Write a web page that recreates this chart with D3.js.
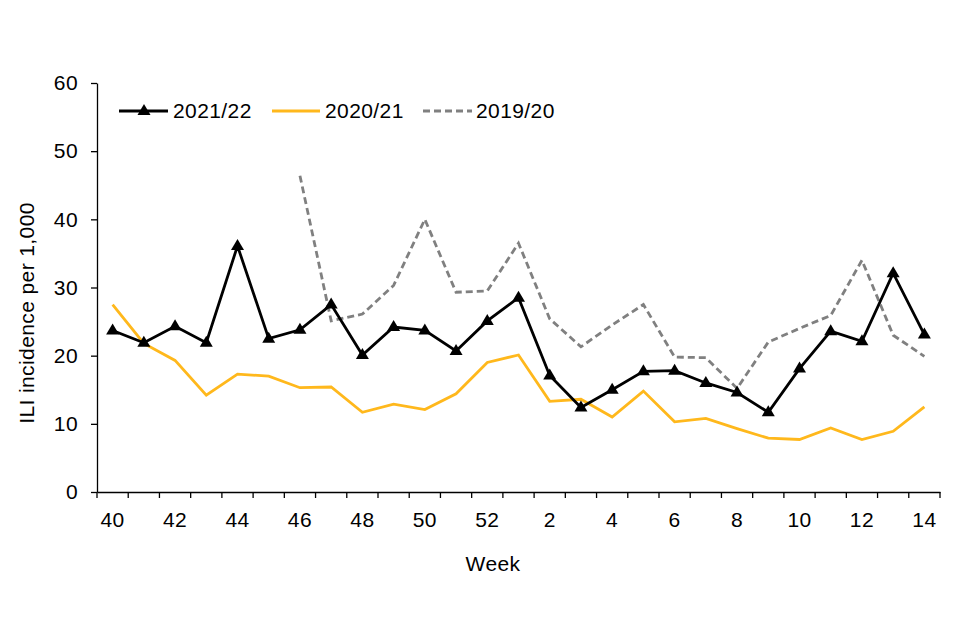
<!DOCTYPE html>
<html>
<head>
<meta charset="utf-8">
<script src="https://cdn.jsdelivr.net/npm/d3@7"></script>
<style>
  body { margin: 0; background: #fff; }
  text { font-family: "Liberation Sans", Arial, sans-serif; }
</style>
</head>
<body>
<div id="chart"></div>
<script>
// weeks of the season, week 40 through week 14
const weeks = ["40","41","42","43","44","45","46","47","48","49","50","51","52",
  "1","2","3","4","5","6","7","8","9","10","11","12","13","14"];
const weekLabels = ["40","42","44","46","48","50","52","2","4","6","8","10","12","14"];

// ILI incidence per 1,000
const season2122 = [23.7, 21.9, 24.3, 21.9, 36.1, 22.5, 23.8, 27.5, 20.1, 24.2, 23.7, 20.7, 25.1,
  28.5, 17.1, 12.4, 15.0, 17.7, 17.8, 16.0, 14.6, 11.7, 18.1, 23.6, 22.1, 32.1, 23.1];
const season2021 = [27.5, 21.8, 19.3, 14.2, 17.3, 17.0, 15.3, 15.4, 11.7, 12.9, 12.1, 14.4, 19.0,
  20.1, 13.3, 13.6, 11.0, 14.8, 10.3, 10.8, 9.3, 7.9, 7.7, 9.4, 7.7, 8.9, 12.5];
const season1920 = [null, null, null, null, null, null, 46.4, 25.1, 26.1, 30.3, 40.0, 29.3, 29.5,
  36.5, 25.4, 21.3, 24.5, 27.5, 19.8, 19.7, 15.2, 22.0, 24.0, 25.9, 34.0, 23.0, 19.9];

const seriesNames = ["2021/22", "2020/21", "2019/20"];
const yTicks = [0, 10, 20, 30, 40, 50, 60];

const width = 960, height = 640;
const plot = { left: 97, right: 940, top: 83, bottom: 492 };

const svg = d3.select('#chart').append('svg')
  .attr('width', width)
  .attr('height', height);

const x = d3.scaleBand().domain(weeks).range([plot.left, plot.right]).paddingInner(0).paddingOuter(0);
const y = d3.scaleLinear().domain([0, 60]).range([plot.bottom, plot.top]);
const cx = (w) => x(w) + x.bandwidth() / 2;

const fontStyle = (sel) => sel.style('font-size', '21px').style('letter-spacing', '0.4px').attr('fill', '#000');

//y axis
const yAxis = svg.append('g')
  .attr('transform', `translate(${plot.left},0)`)
  .call(d3.axisLeft(y).tickValues(yTicks).tickSize(6).tickSizeOuter(0).tickPadding(13));
yAxis.select('.domain').attr('stroke', '#000').attr('stroke-width', 1.3);
yAxis.selectAll('.tick line').attr('stroke', '#000').attr('stroke-width', 1.3);
yAxis.selectAll('.tick text').call(fontStyle).attr('font-family', null);

//x axis: labels on every other week, ticks between weeks
const xAxis = svg.append('g')
  .attr('transform', `translate(0,${plot.bottom})`)
  .call(d3.axisBottom(x).tickValues(weekLabels).tickSize(0).tickPadding(20));
xAxis.select('.domain').attr('stroke', '#000').attr('stroke-width', 1.3);
xAxis.selectAll('.tick text').call(fontStyle).attr('font-family', null);

xAxis.selectAll('line.boundary')
  .data(d3.range(weeks.length + 1))
  .join('line')
  .attr('class', 'boundary')
  .attr('x1', (i) => plot.left + i * x.step())
  .attr('x2', (i) => plot.left + i * x.step())
  .attr('y1', 0)
  .attr('y2', 6)
  .attr('stroke', '#000')
  .attr('stroke-width', 1.3);

//axis titles
svg.append('text')
  .attr('transform', `translate(34,313) rotate(-90)`)
  .attr('text-anchor', 'middle')
  .call(fontStyle)
  .text('ILI incidence per 1,000');

svg.append('text')
  .attr('x', 493)
  .attr('y', 571)
  .attr('text-anchor', 'middle')
  .call(fontStyle)
  .text('Week');

//lines
const line = d3.line()
  .defined((d) => d.v !== null)
  .x((d) => cx(d.w))
  .y((d) => y(d.v));

const toPoints = (vals) => weeks.map((w, i) => ({ w: w, v: vals[i] }));

const styles = [
  { data: season2122, color: '#000000', dash: null },
  { data: season2021, color: '#FFB81C', dash: null },
  { data: season1920, color: '#808080', dash: '7,4' }
];

// draw back to front: 2019/20, 2020/21, 2021/22
[2, 1, 0].forEach(function (k) {
  svg.append('path')
    .datum(toPoints(styles[k].data))
    .attr('fill', 'none')
    .attr('stroke', styles[k].color)
    .attr('stroke-width', 2.8)
    .attr('stroke-dasharray', styles[k].dash)
    .attr('stroke-linejoin', 'miter')
    .attr('d', line);
});

//triangle markers for 2021/22
const triangle = 'M0,-7L6.5,4L-6.5,4Z';
svg.append('g').selectAll('path')
  .data(toPoints(season2122))
  .join('path')
  .attr('transform', (d) => `translate(${cx(d.w)},${y(d.v)})`)
  .attr('d', triangle)
  .attr('fill', '#000');

//legend
const legendItems = [
  { x1: 119, x2: 168, tx: 173 },
  { x1: 272, x2: 320, tx: 325 },
  { x1: 423, x2: 472, tx: 476 }
];
const legende = svg.append('g').attr('id', 'legende');
const legendUnits = legende.selectAll('g')
  .data(seriesNames)
  .join('g');

legendUnits.append('line')
  .attr('x1', (d, i) => legendItems[i].x1)
  .attr('x2', (d, i) => legendItems[i].x2)
  .attr('y1', 111)
  .attr('y2', 111)
  .attr('stroke', (d, i) => styles[i].color)
  .attr('stroke-width', 2.8)
  .attr('stroke-dasharray', (d, i) => styles[i].dash);

legendUnits.filter((d, i) => i === 0)
  .append('path')
  .attr('transform', `translate(144,111)`)
  .attr('d', triangle)
  .attr('fill', '#000');

legendUnits.append('text')
  .attr('x', (d, i) => legendItems[i].tx)
  .attr('y', 118)
  .call(fontStyle)
  .text((d) => d);
</script>
</body>
</html>
